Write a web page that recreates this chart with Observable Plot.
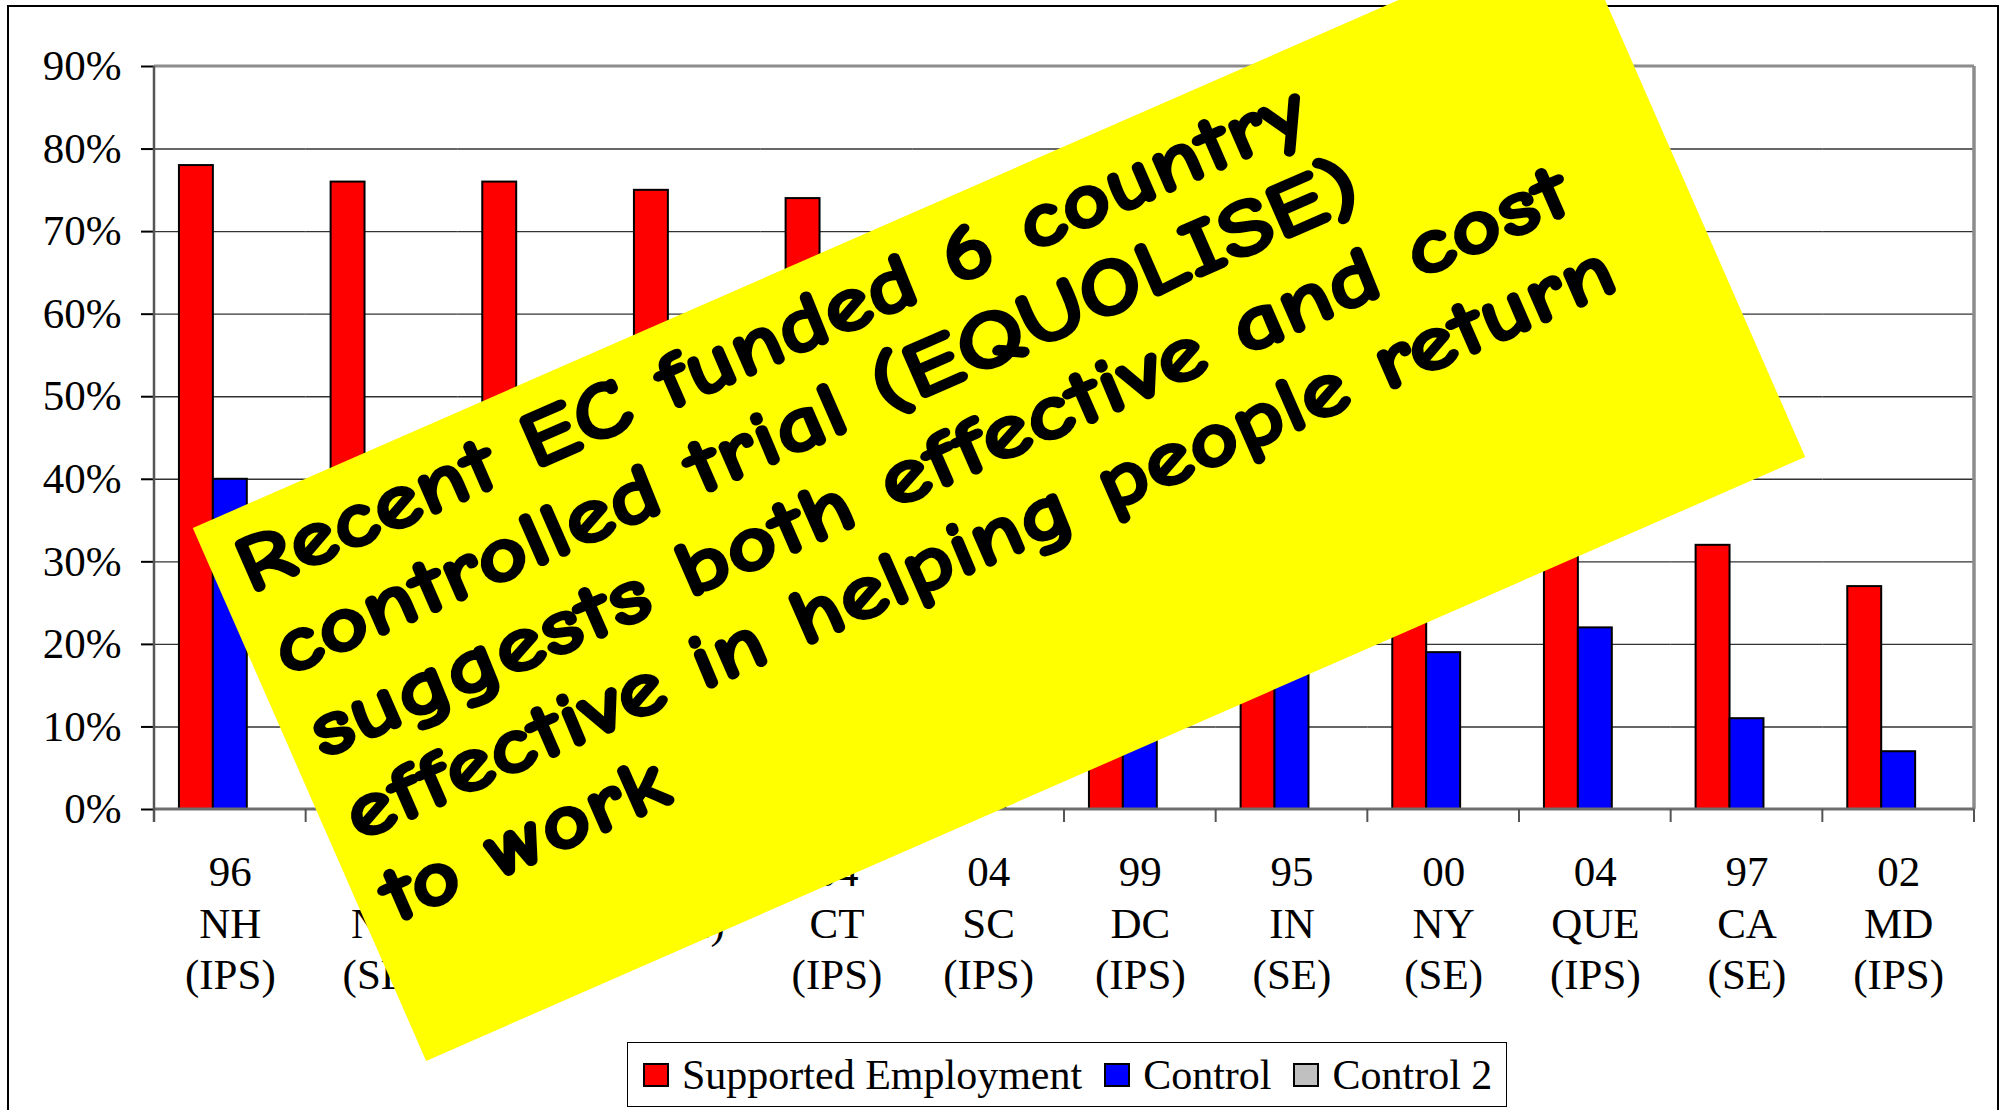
<!DOCTYPE html>
<html>
<head>
<meta charset="utf-8">
<script src="https://cdn.jsdelivr.net/npm/d3@7"></script>
<script src="https://cdn.jsdelivr.net/npm/@observablehq/plot@0.6"></script>
<style>
  html, body { margin: 0; padding: 0; background: #fff; }
  body { width: 2002px; height: 1110px; position: relative; overflow: hidden;
         font-family: "Liberation Serif", "Times New Roman", serif; }
  #frame { position: absolute; left: 7px; top: 5px; width: 1992px; height: 1200px;
           border: 2px solid #000; box-sizing: border-box; }
  #chart { position: absolute; left: 0; top: 0; }
  #legend { position: absolute; left: 627px; top: 1042px; height: 65px; box-sizing: border-box;
            border: 1.5px solid #000; background: #fff; display: flex; align-items: center;
            padding: 0 14px 0 15px; font-size: 42px; white-space: nowrap; }
  .item { display: flex; align-items: center; margin-right: 22px; }
  .item:last-child { margin-right: 0; }
  .sw { width: 26px; height: 24px; border: 2px solid #000; box-sizing: border-box; margin-right: 13px; }
  #note { position: absolute; left: 0; top: 0; pointer-events: none; }
</style>
</head>
<body>
<div id="frame"></div>
<div id="chart"></div>
<div id="legend"></div>
<svg id="note" width="2002" height="1110"></svg>
<script>
// ---- data ----
const categories = [
  "96 NH (IPS)", "94 NY (SE)", "05 HK (SE)", "EIDP (SE)", "04 CT (IPS)", "04 SC (IPS)",
  "99 DC (IPS)", "95 IN (SE)", "00 NY (SE)", "04 QUE (IPS)", "97 CA (SE)", "02 MD (IPS)"
];
const seriesNames = ["Supported Employment", "Control", "Control 2"];
const seriesColors = ["#ff0000", "#0000ff", "#c0c0c0"];
const supported = [78, 76, 76, 75, 74, 64, 61, 56, 51, 47, 32, 27];
const control   = [40, 29, 30, 34, 18, 26, 9, 22, 19, 22, 11, 7];
const control2  = [null, null, null, null, 28, null, null, null, null, null, null, null];
const yTicks = [0, 10, 20, 30, 40, 50, 60, 70, 80, 90];
const noteLines = [
  "Recent EC funded 6 country",
  "controlled trial (EQUOLISE)",
  "suggests both effective and cost",
  "effective in helping people return",
  "to work"
];

// ---- table for the library ----
const seriesValues = [supported, control, control2];
const rows = [];
categories.forEach((c, i) => {
  seriesValues.forEach((arr, j) => {
    if (arr[i] != null) rows.push({cat: c, series: seriesNames[j], value: arr[i]});
  });
});

const plot = Plot.plot({
  width: 2002,
  height: 1040,
  marginLeft: 154,
  marginRight: 28,
  marginTop: 66,
  marginBottom: 231,
  style: {background: "transparent", fontFamily: "'Liberation Serif', 'Times New Roman', serif", overflow: "visible"},
  fx: {domain: categories, padding: 0, round: false, axis: null},
  x: {domain: seriesNames, paddingInner: 0, paddingOuter: 0.735, round: false, axis: null},
  y: {domain: [0, 90], axis: null},
  color: {domain: seriesNames, range: seriesColors},
  marks: [
    Plot.ruleY(yTicks.filter(t => t > 0 && t < 90), {stroke: "#333", strokeWidth: 1.4}),
    Plot.barY(rows, {fx: "cat", x: "series", y: "value", fill: "series", stroke: "#000", strokeWidth: 2}),
    Plot.axisY({ticks: yTicks, tickFormat: d => d + "%", tickSize: 13, tickPadding: 20, fontSize: 43, color: "#000", label: null}),
    Plot.text(categories, {
      fx: d => d, text: d => d.split(" ").join("\n"),
      frameAnchor: "bottom", lineAnchor: "top", dy: 40, lineHeight: 1.2,
      fontSize: 43, fill: "#000"
    })
  ]
});
document.getElementById("chart").appendChild(plot);

// Excel-style plot-area border, axis lines and category ticks, placed through the scales
const svg = d3.select(plot);
svg.selectAll('[aria-label="y-axis tick"]').attr("stroke", "#555").attr("stroke-width", 2);
const fxs = plot.scale("fx"), ys = plot.scale("y");
const [x0, x1] = fxs.range;
const yb = ys.apply(0), yt = ys.apply(90);
const g = svg.append("g");
g.append("line").attr("x1", x0).attr("x2", x1).attr("y1", yt).attr("y2", yt)
  .attr("stroke", "#8c8c8c").attr("stroke-width", 3);
g.append("line").attr("x1", x1).attr("x2", x1).attr("y1", yt).attr("y2", yb)
  .attr("stroke", "#8c8c8c").attr("stroke-width", 3.5);
g.append("line").attr("x1", x0).attr("x2", x1).attr("y1", yb).attr("y2", yb)
  .attr("stroke", "#6e6e6e").attr("stroke-width", 3);
g.append("line").attr("x1", x0).attr("x2", x0).attr("y1", yt).attr("y2", yb + 13)
  .attr("stroke", "#555").attr("stroke-width", 2.5);
g.selectAll(".ctick").data(categories.map(c => fxs.apply(c)).concat([x1])).join("line")
  .attr("x1", d => d).attr("x2", d => d).attr("y1", yb).attr("y2", yb + 13)
  .attr("stroke", "#555").attr("stroke-width", 2);

// ---- legend ----
const legend = d3.select("#legend");
seriesNames.forEach((s, i) => {
  const it = legend.append("div").attr("class", "item");
  it.append("div").attr("class", "sw").style("background", seriesColors[i]);
  it.append("span").text(s);
});

// ---- rotated yellow note ----
const note = d3.select("#note");
const W = 1505.5, H = 581.7;
const ng = note.append("g").attr("transform", "translate(999,492.5) rotate(-23.65)");
ng.append("rect").attr("x", -W / 2).attr("y", -H / 2).attr("width", W).attr("height", H).attr("fill", "#ffff00");
const lens = [1160, 1178, 1368, 1378, 306];
noteLines.forEach((t, i) => {
  ng.append("text")
    .attr("x", -W / 2 + 26)
    .attr("y", -H / 2 + 84 + i * 90)
    .attr("font-family", "'Comic Sans MS', 'Comic Neue', 'DejaVu Sans', sans-serif")
    .attr("font-weight", "bold")
    .attr("font-size", 80)
    .attr("fill", "#000")
    .attr("stroke", "#000")
    .attr("stroke-width", 2.5)
    .attr("stroke-linejoin", "round")
    .attr("textLength", lens[i])
    .attr("lengthAdjust", "spacingAndGlyphs")
    .text(t);
});
</script>
</body>
</html>
